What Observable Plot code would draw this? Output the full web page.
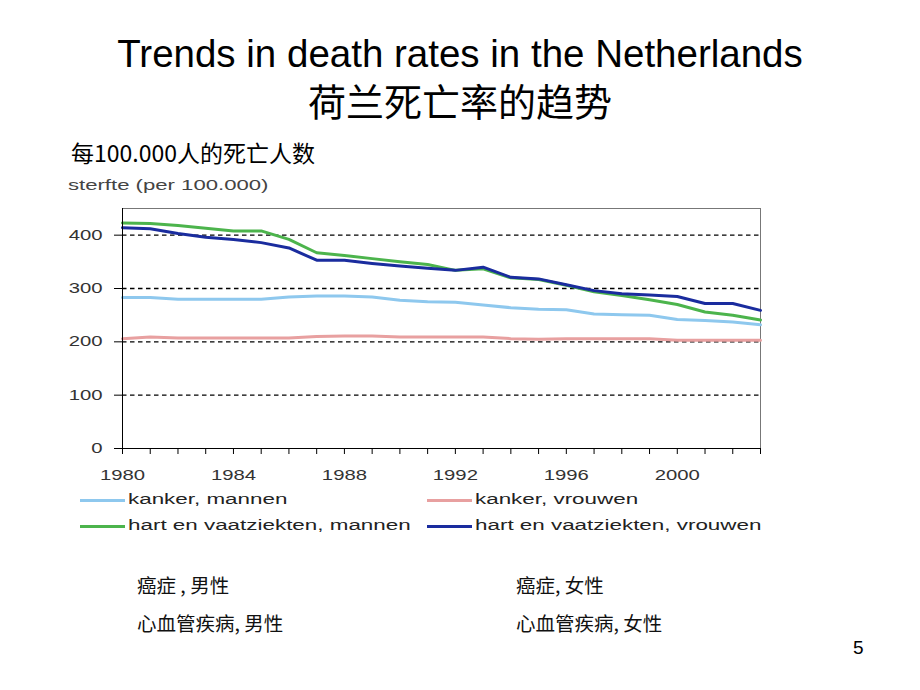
<!DOCTYPE html>
<html>
<head>
<meta charset="utf-8">
<script src="https://cdn.jsdelivr.net/npm/d3@7"></script>
<script src="https://cdn.jsdelivr.net/npm/@observablehq/plot@0.6"></script>
<style>
  html, body { margin: 0; padding: 0; background: #fff; }
  #page { position: relative; width: 920px; height: 690px; overflow: hidden; font-family: "Liberation Sans", Arial, sans-serif; }
  .abs { position: absolute; white-space: nowrap; }
  .title { left: 0; width: 920px; text-align: center; font-size: 38.5px; color: #000; }
  .cjk { font-family: "Noto Sans CJK SC", sans-serif; }
  .wide { display: inline-block; transform-origin: left center; transform: scaleX(1.6); }
  .leg { font-size: 14px; color: #222; line-height: 16px; }
  .sw { position: absolute; height: 0; width: 45px; border-top: 3px solid; }
  #chart { position: absolute; left: 0; top: 200px; }
  .lab { font-size: 19.5px; line-height: 26px; color: #111; }
</style>
</head>
<body>
<div id="page">
  <div class="abs title" style="top:32px;">Trends in death rates in the Netherlands</div>
  <div class="abs title cjk" style="top:75px;font-size:38px;line-height:50px;">荷兰死亡率的趋势</div>
  <div class="abs cjk" style="left:71px;top:136px;font-size:23px;line-height:32px;">每100.000人的死亡人数</div>
  <div class="abs leg" style="left:68px;top:177px;color:#444;"><span class="wide" style="transform:scaleX(1.58)">sterfte (per 100.000)</span></div>
  <div id="chart"></div>
  <div id="legend"></div>
  <div class="abs cjk lab" style="left:137px;top:572px;">癌症 , 男性</div>
  <div class="abs cjk lab" style="left:516px;top:572px;">癌症, 女性</div>
  <div class="abs cjk lab" style="left:137px;top:610px;">心血管疾病, 男性</div>
  <div class="abs cjk lab" style="left:516px;top:610px;">心血管疾病, 女性</div>
  <div class="abs" style="left:853px;top:637px;font-size:19px;">5</div>
</div>
<script>
// ---- data ----
const years = d3.range(1980, 2004);
const kankerMannen =   [283,283,280,280,280,280,284,286,286,284,278,275,274,269,264,261,260,252,251,250,242,240,237,232];
const kankerVrouwen =  [206,209,207,207,207,207,207,210,211,211,209,209,209,209,206,205,206,206,206,206,203,203,203,203];
const hartMannen =     [423,422,418,413,408,408,392,367,362,356,350,345,334,337,320,317,306,294,287,279,270,256,250,241];
const hartVrouwen =    [414,412,403,396,392,386,376,353,353,347,342,338,334,340,321,318,307,296,290,288,285,272,272,259];
const seriesNames = ["kanker, mannen", "kanker, vrouwen", "hart en vaatziekten, mannen", "hart en vaatziekten, vrouwen"];
const seriesValues = [kankerMannen, kankerVrouwen, hartMannen, hartVrouwen];
const seriesColors = ["#8ec8ee", "#e8a0a0", "#4cb44c", "#1a2c9e"];
const yTicks = [0, 100, 200, 300, 400];
const gridValues = [100, 200, 300, 400];
const xTickYears = d3.range(1980, 2004);
const xLabelYears = [1980, 1984, 1988, 1992, 1996, 2000];

const rows = [];
seriesNames.forEach((name, i) => {
  years.forEach((yr, j) => rows.push({series: name, year: yr, value: seriesValues[i][j]}));
});

const chart = Plot.plot({
  width: 920,
  height: 290,
  marginLeft: 122,
  marginRight: 160,
  marginTop: 8,
  marginBottom: 42,
  style: {fontFamily: "Liberation Sans, Arial, sans-serif", fontSize: "14px", color: "#333", background: "transparent", overflow: "visible"},
  x: {domain: [1980, 2003]},
  y: {domain: [0, 450]},
  color: {domain: seriesNames, range: seriesColors},
  marks: [
    Plot.frame({stroke: "#777"}),
    Plot.ruleY(gridValues, {stroke: "#000", strokeDasharray: "4.5,3.5", strokeWidth: 1.4}),
    Plot.line(rows, {x: "year", y: "value", z: "series", stroke: "series", strokeWidth: 3, strokeLinejoin: "round"}),
    Plot.ruleY([0], {stroke: "#000"}),
    Plot.ruleX([1980], {stroke: "#000"}),
    Plot.axisY({ticks: yTicks, tickSize: 8, tickPadding: 12, label: null, stroke: "#000"}),
    Plot.axisX({ticks: xTickYears, tickSize: 6, tickPadding: 16, label: null, stroke: "#000",
      tickFormat: d => xLabelYears.includes(d) ? String(d) : ""})
  ]
});
document.getElementById("chart").appendChild(chart);

// widen tick label glyphs to mimic the original bitmap font
d3.select(chart).selectAll('g[aria-label$="tick label"] text').each(function() {
  const t = d3.select(this);
  const tr = t.attr("transform");
  if (tr) {
    t.attr("transform", tr + " scale(1.45,1)");
  } else {
    const x = +t.attr("x") || 0, y = +t.attr("y") || 0;
    t.attr("x", null).attr("y", null).attr("transform", `translate(${x},${y}) scale(1.45,1)`);
  }
});

// legend
const legend = document.getElementById("legend");
const legPos = [[80, 500], [427, 500], [80, 526], [427, 526]];
seriesNames.forEach((name, i) => {
  const [lx, ly] = legPos[i];
  const sw = document.createElement("div");
  sw.className = "sw";
  sw.style.left = lx + "px";
  sw.style.top = (ly - 1.5) + "px";
  sw.style.borderTopColor = seriesColors[i];
  legend.appendChild(sw);
  const tx = document.createElement("div");
  tx.className = "abs leg";
  tx.style.left = (lx + 48) + "px";
  tx.style.top = (ly - 9) + "px";
  tx.innerHTML = '<span class="wide"></span>';
  tx.firstChild.textContent = name;
  legend.appendChild(tx);
});
</script>
</body>
</html>
